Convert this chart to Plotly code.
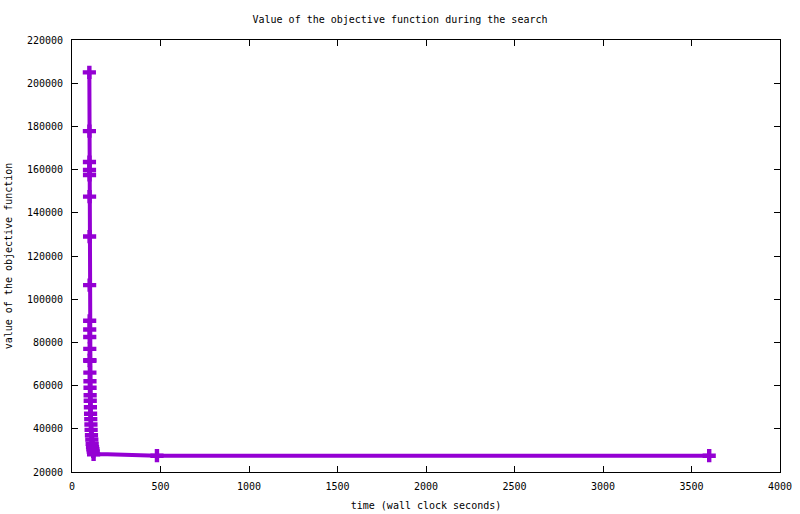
import plotly.graph_objects as go

time_s = [98, 98.3, 98.6, 98.8, 99, 99.2, 99.4, 99.6, 99.8, 100, 100.2, 100.4, 100.6,
          100.8, 101, 101.5, 102, 102.5, 103, 104, 105, 106, 107, 108, 110, 112, 114,
          116, 118, 120, 122, 200, 400, 480, 3600]
objective = [205000, 177800, 163500, 159800, 157500, 147500, 129000, 106500, 90000,
             86000, 82500, 77000, 71800, 71500, 66000, 62000, 59000, 55500, 53000,
             50000, 47000, 44500, 42000, 39500, 37000, 35000, 33000, 31500, 30500,
             29500, 28200, 28200, 27900, 27550, 27550]
hidden_markers = {200, 400}

font = "DejaVu Sans Mono, monospace"
marker_sizes = [0 if t in hidden_markers else 11 for t in time_s]

fig = go.Figure(go.Scatter(
    x=time_s, y=objective, mode="lines+markers",
    line=dict(color="#9400D3", width=4),
    marker=dict(symbol="cross", size=marker_sizes, color="#9400D3",
                opacity=1, line=dict(width=0)),
))

axis_common = dict(showline=True, linecolor="black", linewidth=1, mirror="ticks",
                   ticks="inside", ticklen=6, tickcolor="black", showgrid=False,
                   zeroline=False, automargin=False,
                   tickfont=dict(family=font, size=10, color="black"))

fig.update_layout(
    width=800, height=514,
    margin=dict(l=72, r=20, t=40, b=42),
    paper_bgcolor="white", plot_bgcolor="white",
    showlegend=False,
    title=dict(text="Value of the objective function during the search",
               x=0.5, xanchor="center", y=1 - 19 / 514, yanchor="middle",
               font=dict(family=font, size=10, color="black")),
    xaxis=dict(range=[0, 4000], dtick=500, tickformat="d", ticklabelstandoff=5,
               title=dict(text="time (wall clock seconds)", standoff=10,
                          font=dict(family=font, size=10, color="black")),
               **axis_common),
    yaxis=dict(range=[20000, 220000], dtick=20000, tickformat="d", ticklabelstandoff=6,
               title=dict(text="value of the objective function", standoff=12,
                          font=dict(family=font, size=10, color="black")),
               **axis_common),
)

fig.write_html("out.html", config={"displayModeBar": False},
               post_script="document.body.style.margin='0';document.body.style.overflow='hidden';")
